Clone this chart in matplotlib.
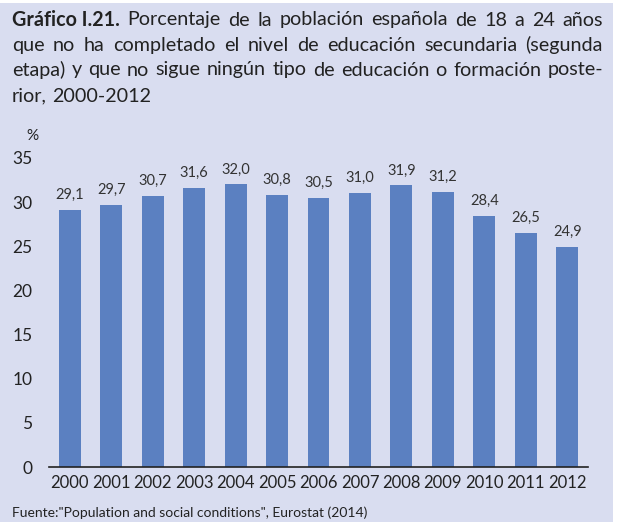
import matplotlib
matplotlib.use("Agg")
import matplotlib.pyplot as plt

years = ["2000", "2001", "2002", "2003", "2004", "2005", "2006",
         "2007", "2008", "2009", "2010", "2011", "2012"]
values = [29.1, 29.7, 30.7, 31.6, 32.0, 30.8, 30.5, 31.0, 31.9, 31.2, 28.4, 26.5, 24.9]
yticks = [0, 5, 10, 15, 20, 25, 30, 35]

title_bold = "Gráfico I.21."
title_lines = [
    "Porcentaje de la población española de 18 a 24 años",
    "que no ha completado el nivel de educación secundaria (segunda",
    "etapa) y que no sigue ningún tipo de educación o formación poste-",
    "rior, 2000-2012",
]
source = 'Fuente:"Population and social conditions", Eurostat (2014)'

BG = "#d9ddf0"
BAR = "#5b80c1"
TXT = "#222222"
FONT = "Lato"

W, H = 620, 522
fig = plt.figure(figsize=(W / 100, H / 100), dpi=100, facecolor="white")
fig.patches.append(plt.Rectangle((0, 0), 613 / W, 1 - 3 / H, transform=fig.transFigure,
                                 facecolor=BG, edgecolor="none", zorder=-10))

ax_l, ax_r, ax_b, ax_t = 49, 588, 467, 158
ax = fig.add_axes([ax_l / W, (H - ax_b) / H, (ax_r - ax_l) / W, (ax_b - ax_t) / H])
ax.set_facecolor("none")
x = list(range(len(years)))
ax.bar(x, values, width=0.53, color=BAR, zorder=2)
for xi, v in zip(x, values):
    ax.text(xi, v + 0.9, f"{v:.1f}".replace(".", ","), ha="center", va="bottom",
            fontsize=10.5, color="#333333", family=FONT)
ax.set_xlim(-0.5, len(years) - 0.5)
ax.set_ylim(0, 35)
ax.set_yticks(yticks)
ax.set_yticklabels([str(t) for t in yticks], family=FONT, fontsize=12.5, color=TXT)
ax.set_xticks(x)
ax.set_xticklabels(years, family=FONT, fontsize=12, color=TXT)
ax.tick_params(axis="y", length=0, pad=12)
ax.tick_params(axis="x", length=0, pad=6)
for s in ["top", "right", "left"]:
    ax.spines[s].set_visible(False)
ax.spines["bottom"].set_color("#222222")
ax.spines["bottom"].set_linewidth(1.2)
fig.text(26 / W, 1 - 136 / H, "%", ha="left", va="center",
         fontsize=11, color=TXT, family=FONT)

# Title with justification
fig.canvas.draw()
renderer = fig.canvas.get_renderer()
left_px, right_px = 12, 603
tsize = 14.2
line_y = [20, 45, 70, 96]


def width_px(t, weight="normal"):
    tt = fig.text(0, 0, t, fontsize=tsize, family=FONT, weight=weight)
    w = tt.get_window_extent(renderer).width
    tt.remove()
    return w


for i, line in enumerate(title_lines):
    words = line.split(" ")
    items = []
    if i == 0:
        items.append((title_bold, "bold"))
    items += [(w, "normal") for w in words]
    widths = [width_px(t, wt) for t, wt in items]
    y = 1 - line_y[i] / H
    if i < len(title_lines) - 1:
        gap = (right_px - left_px - sum(widths)) / (len(items) - 1)
    else:
        gap = width_px("a b") - width_px("ab")
    xpos = left_px
    for (t, wt), w in zip(items, widths):
        fig.text(xpos / W, y, t, fontsize=tsize, family=FONT, weight=wt,
                 color=TXT, va="center", ha="left")
        xpos += w + gap

fig.text(12 / W, 1 - 513 / H, source, fontsize=10, family=FONT, color=TXT,
         va="center", ha="left")

fig.savefig("out.png", dpi=100, facecolor="white")
